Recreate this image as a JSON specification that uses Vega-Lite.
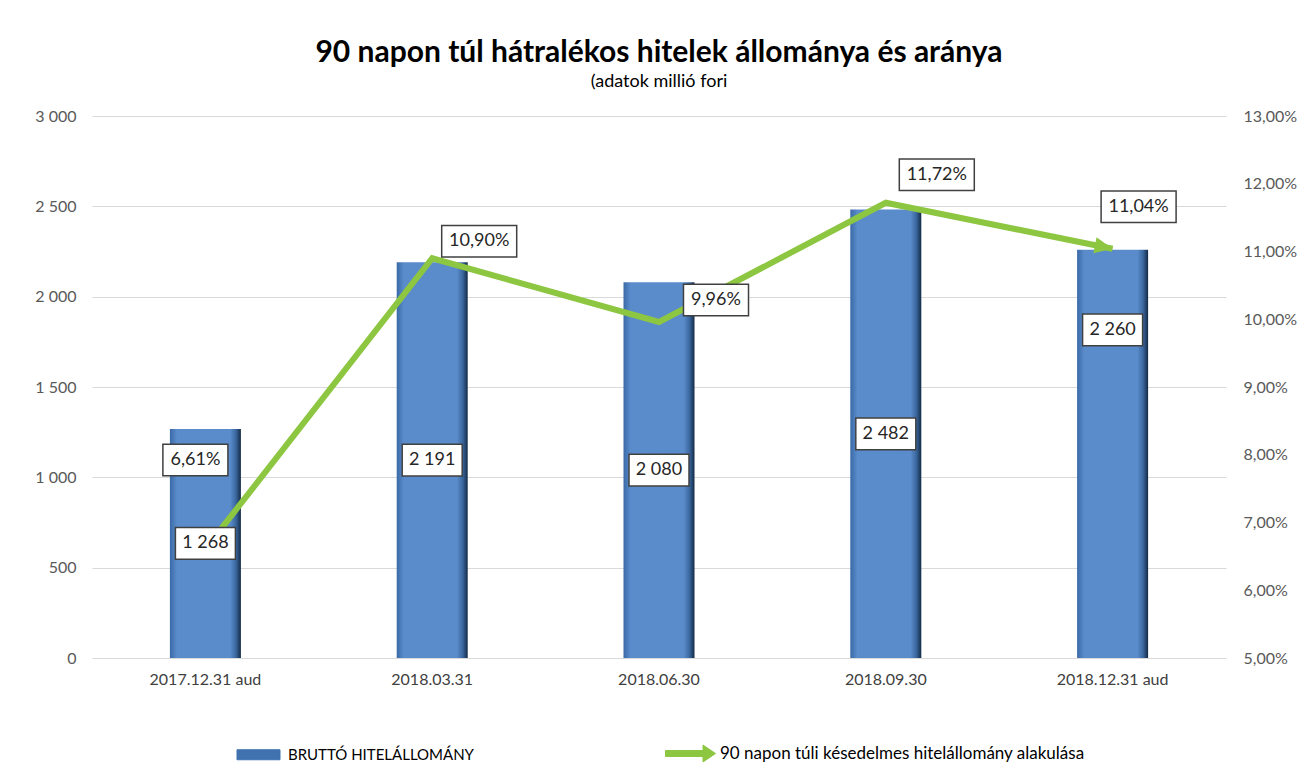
{
  "$schema": "https://vega.github.io/schema/vega-lite/v6.json",
  "width": 1134,
  "height": 542,
  "autosize": {"type": "none"},
  "padding": {"left": 92, "top": 116, "right": 75, "bottom": 124},
  "background": "white",
  "config": {
    "font": "Lato",
    "locale": {"number": {"decimal": ",", "thousands": " ", "grouping": [3], "currency": ["", ""]}},
    "view": {"stroke": null}
  },
  "title": {
    "text": "90 napon túl hátralékos hitelek állománya és aránya",
    "subtitle": "(adatok millió fori",
    "anchor": "middle",
    "frame": "group",
    "fontSize": 30,
    "fontWeight": "bold",
    "color": "#000000",
    "subtitleFontSize": 18,
    "subtitleColor": "#000000",
    "subtitlePadding": 5,
    "offset": 17
  },
  "data": {
    "values": [
      {"date": "2017.12.31 aud", "amount": 1268, "ratio": 0.0661},
      {"date": "2018.03.31", "amount": 2191, "ratio": 0.1090},
      {"date": "2018.06.30", "amount": 2080, "ratio": 0.0996},
      {"date": "2018.09.30", "amount": 2482, "ratio": 0.1172},
      {"date": "2018.12.31 aud", "amount": 2260, "ratio": 0.1104}
    ]
  },
  "encoding": {
    "x": {
      "field": "date",
      "type": "nominal",
      "sort": null,
      "scale": {"paddingInner": 0, "paddingOuter": 0},
      "axis": {"title": null, "labelAngle": 0, "domain": false, "ticks": false, "labelFontSize": 16, "labelColor": "#404040", "labelPadding": 13}
    }
  },
  "layer": [
    {
      "mark": {
        "type": "bar",
        "width": 71,
        "fill": {
          "gradient": "linear", "x1": 0, "y1": 0, "x2": 1, "y2": 0,
          "stops": [
            {"offset": 0, "color": "#3A69A6"},
            {"offset": 0.1, "color": "#5A8CCB"},
            {"offset": 0.85, "color": "#5A8BCA"},
            {"offset": 0.93, "color": "#3A679E"},
            {"offset": 1, "color": "#132A46"}
          ]
        }
      },
      "encoding": {
        "y": {
          "field": "amount", "type": "quantitative",
          "scale": {"domain": [0, 3000], "nice": false},
          "axis": {"orient": "left", "title": null, "values": [0, 500, 1000, 1500, 2000, 2500, 3000], "format": ",.0f", "grid": true, "gridColor": "#D9D9D9", "gridWidth": 1, "domain": false, "ticks": false, "labelFontSize": 16, "labelColor": "#595959", "labelPadding": 16}
        }
      }
    },
    {
      "mark": {"type": "line", "strokeWidth": 6, "strokeCap": "butt", "strokeJoin": "miter"},
      "encoding": {
        "y": {
          "field": "ratio", "type": "quantitative",
          "scale": {"domain": [0.05, 0.13], "nice": false, "zero": false},
          "axis": {"orient": "right", "title": null, "values": [0.05, 0.06, 0.07, 0.08, 0.09, 0.10, 0.11, 0.12, 0.13], "format": ".2%", "grid": false, "domain": false, "ticks": false, "labelFontSize": 16, "labelColor": "#595959", "labelPadding": 17}
        },
        "color": {
          "datum": "90 napon túli késedelmes hitelállomány alakulása",
          "type": "nominal",
          "scale": {"domain": ["BRUTTÓ HITELÁLLOMÁNY", "90 napon túli késedelmes hitelállomány alakulása"], "range": ["#3F72AF", "#8DC641"]},
          "legend": {
            "orient": "none", "legendX": 141, "legendY": 612,
            "direction": "horizontal", "title": null,
            "symbolSize": 2500, "labelFontSize": 15, "labelColor": "#000000",
            "labelOffset": 4, "columnPadding": 189, "padding": 0,
            "labelLimit": 500,
            "encode": {
              "labels": {
                "update": {
                  "fontSize": {"signal": "datum.value === 'BRUTTÓ HITELÁLLOMÁNY' ? 15 : 17"}
                }
              },
              "symbols": {
                "update": {
                  "shape": {"signal": "datum.value === 'BRUTTÓ HITELÁLLOMÁNY' ? 'M-0.86,-0.2H0.86V0.2H-0.86Z' : 'M-1,-0.12H0.5V-0.34L1,0L0.5,0.34V0.12H-1Z'"},
                  "fill": {"signal": "datum.value === 'BRUTTÓ HITELÁLLOMÁNY' ? '#3F72AF' : '#8DC641'"},
                  "stroke": {"signal": "datum.value === 'BRUTTÓ HITELÁLLOMÁNY' ? '#1F3F66' : '#8DC641'"},
                  "strokeWidth": {"value": 1},
                  "opacity": {"value": 1},
                  "fillOpacity": {"value": 1}
                }
              }
            }
          }
        }
      }
    },
    {
      "transform": [{"filter": "datum.date === '2018.12.31 aud'"}],
      "mark": {"type": "point", "shape": "M0,0L-1,-0.45L-1,0.45Z", "size": 1296, "angle": 11.5, "filled": true, "fill": "#8DC641", "opacity": 1},
      "encoding": {
        "y": {"field": "ratio", "type": "quantitative", "scale": {"domain": [0.05, 0.13], "nice": false, "zero": false}, "axis": null}
      }
    },
    {
      "mark": {
        "type": "point", "shape": "M-1,-0.53H1V0.53H-1Z", "size": 3600,
        "filled": true, "fill": "white", "stroke": "#404040", "strokeWidth": 1.5, "opacity": 1,
        "yOffset": {"expr": "datum.amount / 3000 * 271 - (datum.date === '2018.12.31 aud' ? 124 : 0)"}
      },
      "encoding": {
        "y": {"field": "amount", "type": "quantitative", "scale": {"domain": [0, 3000], "nice": false}, "axis": null}
      }
    },
    {
      "mark": {
        "type": "text", "fontSize": 18, "color": "#262626", "align": "center", "baseline": "middle",
        "yOffset": {"expr": "datum.amount / 3000 * 271 - (datum.date === '2018.12.31 aud' ? 124 : 0)"}
      },
      "encoding": {
        "y": {"field": "amount", "type": "quantitative", "scale": {"domain": [0, 3000], "nice": false}, "axis": null},
        "text": {"field": "amount", "type": "quantitative", "format": ",.0f"}
      }
    },
    {
      "mark": {
        "type": "point", "size": 5625,
        "filled": true, "fill": "white", "stroke": "#404040", "strokeWidth": 1.5, "opacity": 1,
        "xOffset": {"expr": "datum.date === '2017.12.31 aud' ? -10 : datum.date === '2018.03.31' ? 47 : datum.date === '2018.06.30' ? 57 : datum.date === '2018.09.30' ? 51 : 26"},
        "yOffset": {"expr": "datum.date === '2017.12.31 aud' ? -89 : datum.date === '2018.03.31' ? -17 : datum.date === '2018.06.30' ? -22 : datum.date === '2018.09.30' ? -28 : -42"}
      },
      "encoding": {
        "y": {"field": "ratio", "type": "quantitative", "scale": {"domain": [0.05, 0.13], "nice": false, "zero": false}, "axis": null},
        "shape": {"condition": {"test": "datum.ratio >= 0.1", "value": "M-1,-0.42H1V0.42H-1Z"}, "value": "M-0.867,-0.42H0.867V0.42H-0.867Z"}
      }
    },
    {
      "mark": {
        "type": "text", "fontSize": 18, "color": "#262626", "align": "center", "baseline": "middle",
        "xOffset": {"expr": "datum.date === '2017.12.31 aud' ? -10 : datum.date === '2018.03.31' ? 47 : datum.date === '2018.06.30' ? 57 : datum.date === '2018.09.30' ? 51 : 26"},
        "yOffset": {"expr": "datum.date === '2017.12.31 aud' ? -89 : datum.date === '2018.03.31' ? -17 : datum.date === '2018.06.30' ? -22 : datum.date === '2018.09.30' ? -28 : -42"}
      },
      "encoding": {
        "y": {"field": "ratio", "type": "quantitative", "scale": {"domain": [0.05, 0.13], "nice": false, "zero": false}, "axis": null},
        "text": {"field": "ratio", "type": "quantitative", "format": ".2%"}
      }
    }
  ],
  "resolve": {"scale": {"y": "independent"}}
}
